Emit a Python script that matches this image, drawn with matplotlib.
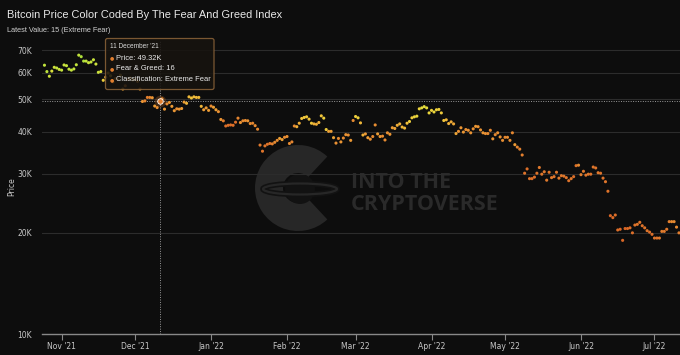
import numpy as np
import pandas as pd
import matplotlib
matplotlib.use("Agg")
import matplotlib.pyplot as plt
from matplotlib.colors import LinearSegmentedColormap
from matplotlib.patches import Wedge, Circle, Ellipse, FancyBboxPatch

# BTC daily price (thousands USD), 25 Oct 2021 -> 11 Jul 2022
oct21 = [63.1, 60.4, 58.5, 60.6, 62.2, 61.9, 61.3]
nov21 = [61.0, 63.2, 62.9, 61.4, 61.0, 61.5, 63.3, 67.6, 66.9, 64.9, 64.9, 64.2, 64.5, 65.5, 63.6,
         60.1, 60.4, 56.9, 58.1, 59.8, 58.7, 56.3, 57.6, 57.2, 58.9, 53.6, 54.8, 57.2, 57.8, 57.0]
dec21 = [57.2, 56.5, 53.6, 49.2, 49.4, 50.6, 50.6, 50.5, 47.7, 47.2, 49.32, 50.1, 46.7, 48.4, 48.9,
         47.6, 46.2, 46.8, 46.7, 46.9, 49.0, 48.6, 50.8, 50.4, 50.8, 50.6, 50.6, 47.6, 46.5, 47.1, 46.3]
jan22 = [47.7, 47.3, 46.5, 45.9, 43.5, 43.1, 41.6, 41.8, 41.9, 41.8, 42.7, 43.9, 42.6, 43.1, 43.2,
         43.1, 42.3, 42.4, 41.7, 40.7, 36.5, 35.0, 36.3, 36.7, 36.9, 36.8, 37.2, 37.7, 38.2, 37.9, 38.5]
feb22 = [38.7, 36.9, 37.3, 41.6, 41.4, 42.4, 43.8, 44.1, 44.3, 43.6, 42.4, 42.2, 42.1, 42.6, 44.6,
         43.9, 40.6, 40.1, 40.1, 38.4, 37.0, 38.2, 37.3, 38.3, 39.2, 39.1, 37.7, 43.2]
mar22 = [44.4, 44.0, 42.5, 39.1, 39.4, 38.4, 38.0, 38.7, 41.9, 39.4, 38.7, 38.8, 37.8, 39.7, 39.3,
         41.1, 40.9, 41.8, 42.2, 41.3, 41.0, 42.4, 42.9, 44.0, 44.3, 44.5, 46.8, 47.1, 47.5, 47.1, 45.5]
apr22 = [46.3, 45.8, 46.5, 46.6, 45.5, 43.2, 43.4, 42.3, 42.8, 42.2, 39.5, 40.1, 41.1, 39.9, 40.6,
         40.4, 39.7, 40.8, 41.5, 41.4, 40.5, 39.7, 39.5, 39.5, 40.4, 38.1, 39.2, 39.7, 38.6, 37.7]
may22 = [38.5, 38.5, 37.7, 39.7, 36.6, 36.0, 35.5, 34.1, 30.1, 31.0, 29.0, 29.0, 29.3, 30.1, 31.3,
         29.9, 30.4, 28.7, 30.3, 29.2, 29.4, 30.3, 29.1, 29.6, 29.5, 29.2, 28.6, 29.0, 29.4, 31.7, 31.8]
jun22 = [29.8, 30.5, 29.7, 29.9, 29.9, 31.4, 31.2, 30.2, 30.1, 29.1, 28.4, 26.6, 22.5, 22.2, 22.6,
         20.4, 20.5, 19.0, 20.6, 20.6, 20.7, 20.0, 21.1, 21.2, 21.5, 21.0, 20.7, 20.3, 20.1, 19.8]
jul22 = [19.3, 19.3, 19.3, 20.2, 20.2, 20.5, 21.6, 21.6, 21.6, 20.8, 20.0]

# Fear & Greed index, same days
fg_oct21 = [76, 78, 70, 66, 70, 74, 72]
fg_nov21 = [74, 72, 74, 74, 74, 74, 75, 76, 84, 84, 75, 73, 74, 73, 71,
            72, 63, 50, 40, 44, 47, 40, 33, 33, 40, 33, 22, 25, 38, 42]
fg_dec21 = [40, 32, 31, 25, 18, 16, 18, 25, 28, 22, 16, 24, 25, 20, 26,
            27, 25, 22, 25, 27, 28, 38, 41, 45, 41, 41, 41, 40, 28, 27, 28]
fg_jan22 = [21, 29, 29, 23, 24, 15, 10, 10, 10, 10, 10, 18, 24, 20, 21,
            24, 21, 19, 20, 19, 14, 12, 12, 11, 12, 17, 20, 20, 29, 29, 20]
fg_feb22 = [23, 21, 18, 20, 36, 36, 45, 48, 48, 46, 48, 36, 35, 37, 46,
            51, 50, 30, 28, 30, 23, 20, 25, 21, 24, 23, 26, 20]
fg_mar22 = [50, 52, 40, 36, 26, 28, 22, 20, 22, 28, 26, 21, 21, 22, 25,
            28, 31, 35, 37, 41, 41, 44, 51, 49, 54, 55, 54, 60, 60, 60, 56]
fg_apr22 = [52, 56, 53, 52, 49, 46, 40, 37, 34, 33, 32, 23, 25, 25, 23,
            23, 24, 22, 26, 24, 24, 25, 23, 20, 19, 24, 20, 22, 24, 22]
fg_may22 = [19, 22, 22, 19, 27, 18, 17, 16, 11, 10, 11, 10, 10, 11, 14,
            13, 13, 14, 12, 14, 12, 13, 14, 13, 13, 12, 11, 13, 10, 11, 20]
fg_jun22 = [16, 14, 12, 13, 11, 12, 12, 13, 11, 11, 12, 11, 7, 8, 10,
            10, 7, 7, 6, 8, 9, 10, 11, 12, 12, 11, 11, 12, 10, 10]
fg_jul22 = [11, 11, 14, 15, 14, 13, 16, 20, 20, 21, 15]

month_labels = ["Nov '21", "Dec '21", "Jan '22", "Feb '22", "Mar '22",
                "Apr '22", "May '22", "Jun '22", "Jul '22"]
ytick_vals = [10000, 20000, 30000, 40000, 50000, 60000, 70000]
ytick_labels = ["10K", "20K", "30K", "40K", "50K", "60K", "70K"]

price = np.array(oct21 + nov21 + dec21 + jan22 + feb22 + mar22 + apr22 + may22 + jun22 + jul22) * 1000
fg = np.array(fg_oct21 + fg_nov21 + fg_dec21 + fg_jan22 + fg_feb22 + fg_mar22
              + fg_apr22 + fg_may22 + fg_jun22 + fg_jul22)
dates = pd.date_range("2021-10-25", periods=len(price), freq="D")

hover_date = pd.Timestamp("2021-12-11")
hover_i = int(np.where(dates == hover_date)[0][0])

BG = "#0d0d0d"
cmap = LinearSegmentedColormap.from_list("fg", [
    (0.00, "#d4561f"), (0.15, "#e27d2e"), (0.25, "#eb9634"),
    (0.45, "#f0c23a"), (0.58, "#eadb3c"), (0.75, "#c3e43c"), (1.0, "#8ed83a")])

fig = plt.figure(figsize=(6.8, 3.55), dpi=100, facecolor=BG)

# background layer in pixel coords for the watermark
bg = fig.add_axes([0, 0, 1, 1], zorder=0)
bg.set_xlim(0, 680)
bg.set_ylim(355, 0)
bg.axis("off")

wm = "#272727"
bg.add_patch(Wedge((298, 188), 43, 47, 313, width=28, facecolor=wm, edgecolor="none"))
bg.add_patch(Circle((300, 189), 15, facecolor="#121212", edgecolor="none"))
bg.add_patch(Ellipse((300, 189), 74, 11, facecolor="none", edgecolor="#121212", linewidth=4))
bg.add_patch(Ellipse((300, 189), 74, 11, facecolor="none", edgecolor=wm, linewidth=1.6))
bg.text(351, 182, "INTO THE", color="#2a2a2a", fontsize=15.5, fontweight="bold",
        family="Open Sans", va="center", ha="left")
bg.text(351, 205, "CRYPTOVERSE", color="#2a2a2a", fontsize=15.5, fontweight="bold",
        family="Open Sans", va="center", ha="left")

# main chart
ax = fig.add_axes([42 / 680, 21 / 355, 638 / 680, 294 / 355], zorder=1)
ax.patch.set_alpha(0)
ax.set_yscale("log")
ax.set_ylim(10000, 75000)
ax.set_xlim(pd.Timestamp("2021-10-24 00:00"), pd.Timestamp("2022-07-11 10:00"))

ax.set_yticks(ytick_vals)
ax.set_yticklabels(ytick_labels)
ax.yaxis.set_minor_locator(matplotlib.ticker.NullLocator())
ax.tick_params(axis="y", length=0, pad=7, labelsize=5.5, labelcolor="#c8c8c8")
for v in ytick_vals[1:]:
    ax.axhline(v, color="#2c2c2c", linewidth=0.8, zorder=0.5)

month_starts = pd.date_range("2021-11-01", periods=len(month_labels), freq="MS")
ax.set_xticks(month_starts)
ax.set_xticklabels(month_labels)
ax.xaxis.set_minor_locator(matplotlib.ticker.NullLocator())
ax.tick_params(axis="x", length=4, width=0.8, color="#888888", pad=1.5,
               labelsize=5.5, labelcolor="#c8c8c8")

for s in ["top", "right", "left"]:
    ax.spines[s].set_visible(False)
ax.spines["bottom"].set_color("#888888")
ax.spines["bottom"].set_linewidth(1)

ax.set_ylabel("Price", color="#c8c8c8", fontsize=5.5, labelpad=1)

# crosshair
ax.axvline(hover_date, color="#9a9a9a", linewidth=0.7, linestyle=(0, (1, 1.5)), zorder=0.8)
ax.axhline(price[hover_i], color="#9a9a9a", linewidth=0.7, linestyle=(0, (1, 1.5)), zorder=0.8)

ax.scatter(dates, price, c=fg, cmap=cmap, vmin=0, vmax=100, s=5, linewidths=0, zorder=2)

# hovered point
hc = cmap(fg[hover_i] / 100)
ax.scatter([hover_date], [price[hover_i]], s=70, color=hc, alpha=0.25, linewidths=0, zorder=3)
ax.scatter([hover_date], [price[hover_i]], s=16, color=hc, edgecolors="#ffffff",
           linewidths=0.6, zorder=4)

# tooltip (on top)
tt = fig.add_axes([0, 0, 1, 1], zorder=5)
tt.set_xlim(0, 680)
tt.set_ylim(355, 0)
tt.axis("off")
tt.patch.set_alpha(0)
tt.add_patch(FancyBboxPatch((105.5, 38.5), 108.5, 51, boxstyle="round,pad=0,rounding_size=2",
                            facecolor="#17130f", edgecolor="#8a6238", linewidth=0.9, alpha=0.88))
tt.text(110, 47, "11 December '21", color="#d8d8d8", fontsize=4.7,
        family="Liberation Sans", va="center")
rows = [f"Price: {price[hover_i] / 1000:.2f}K",
        f"Fear & Greed: {fg[hover_i]}",
        "Classification: Extreme Fear"]
for k, r in enumerate(rows):
    yy = 58 + k * 10.7
    tt.text(110, yy, "\u25cf", color=hc, fontsize=3.5, va="center")
    tt.text(116, yy, r, color="#ececec", fontsize=5.4, family="Liberation Sans", va="center")

fig.text(7 / 680, 1 - 15 / 355, "Bitcoin Price Color Coded By The Fear And Greed Index",
         color="#e8e8e8", fontsize=7.9, family="Liberation Sans", va="center")
fig.text(7 / 680, 1 - 31 / 355, "Latest Value: 15 (Extreme Fear)",
         color="#d0d0d0", fontsize=5.3, family="Liberation Sans", va="center")

fig.savefig("out.png", dpi=100, facecolor=BG)
